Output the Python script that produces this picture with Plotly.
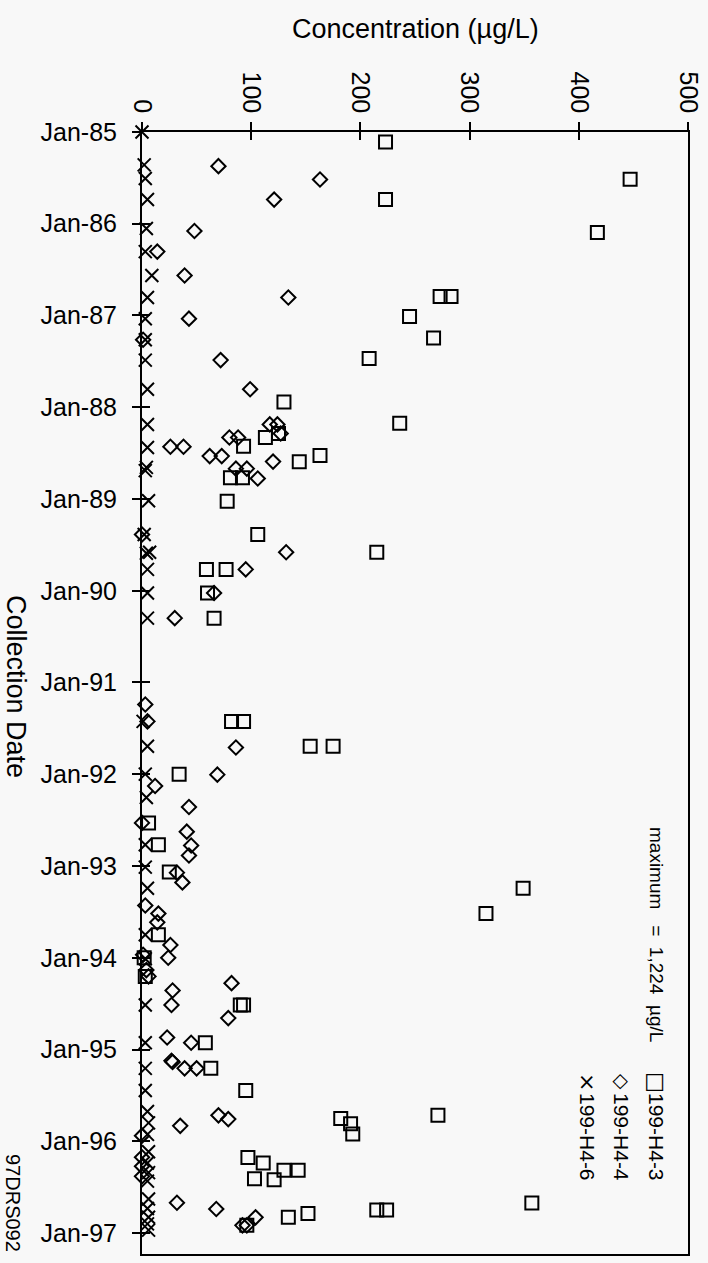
import plotly.graph_objects as go

# ---------------- data ----------------
h43_dates = ['1985-02-10', '1985-07-08', '1985-09-27', '1986-02-05', '1986-10-18', '1986-10-18',
             '1987-01-05', '1987-04-01', '1987-06-22', '1987-12-12', '1988-03-05', '1988-04-15',
             '1988-05-01', '1988-06-05', '1988-07-12', '1988-08-06', '1988-10-08', '1988-10-08',
             '1989-01-10', '1989-05-22', '1989-08-01', '1989-10-08', '1989-10-08', '1990-01-10',
             '1990-04-20', '1991-06-05', '1991-06-05', '1991-09-12', '1991-09-12', '1992-01-01',
             '1992-07-13', '1992-10-08', '1993-01-24', '1993-03-30', '1993-07-09', '1993-10-01',
             '1994-01-01', '1994-03-16', '1994-07-08', '1994-07-08', '1994-12-05', '1995-03-17',
             '1995-06-13', '1995-09-20', '1995-10-03', '1995-10-24', '1995-12-03', '1996-03-06',
             '1996-03-28', '1996-04-26', '1996-04-26', '1996-05-29', '1996-06-02', '1996-09-03',
             '1996-10-01', '1996-10-01', '1996-10-15', '1996-10-30', '1996-12-01']
h43_conc = [223, 447, 223, 417, 273, 283,
            245, 267, 208, 130, 236, 125,
            113, 93, 163, 144, 81, 92,
            78, 106, 215, 59, 77, 60,
            66, 82, 93, 154, 175, 34,
            6, 15, 25, 349, 315, 15,
            2, 3, 90, 93, 58, 63,
            95, 271, 182, 191, 193, 97,
            111, 130, 143, 103, 121, 357,
            215, 224, 152, 134, 96]

h44_dates = ['1985-05-17', '1985-07-09', '1985-09-27', '1986-01-30', '1986-04-22', '1986-07-26',
             '1986-10-22', '1987-01-14', '1987-04-08', '1987-06-28', '1987-10-22', '1988-03-10',
             '1988-03-10', '1988-04-15', '1988-05-01', '1988-05-01', '1988-06-07', '1988-06-07',
             '1988-07-14', '1988-07-14', '1988-08-05', '1988-09-02', '1988-09-02', '1988-10-11',
             '1989-05-22', '1989-08-01', '1989-10-08', '1990-01-10', '1990-04-20', '1991-03-30',
             '1991-06-05', '1991-09-17', '1992-01-03', '1992-02-17', '1992-05-11', '1992-07-13',
             '1992-08-17', '1992-10-11', '1992-11-20', '1993-01-27', '1993-03-07', '1993-06-07',
             '1993-07-09', '1993-08-13', '1993-11-11', '1993-12-20', '1994-01-01', '1994-02-19',
             '1994-03-16', '1994-04-12', '1994-05-11', '1994-07-08', '1994-08-29', '1994-11-14',
             '1994-12-05', '1995-02-15', '1995-02-20', '1995-03-17', '1995-03-17', '1995-09-20',
             '1995-10-05', '1995-11-01', '1995-12-10', '1996-03-05', '1996-04-10', '1996-05-20',
             '1996-09-02', '1996-09-27', '1996-10-30', '1996-12-01', '1996-12-01']
h44_conc = [70, 163, 121, 48, 14, 39,
            134, 43, 1, 72, 99, 117,
            124, 127, 80, 88, 26, 38,
            62, 73, 120, 86, 96, 106,
            0, 132, 95, 66, 30, 3,
            5, 86, 69, 12, 43, 0,
            41, 45, 43, 32, 37, 3,
            15, 14, 26, 1, 24, 4,
            6, 82, 28, 27, 79, 23,
            45, 27, 28, 39, 50, 70,
            79, 35, 0, 0, 0, 0,
            32, 68, 104, 92, 96]

h46_dates = ['1985-01-01', '1985-05-12', '1985-07-05', '1985-09-27', '1986-01-20', '1986-04-22',
             '1986-07-26', '1986-10-22', '1987-01-14', '1987-04-08', '1987-06-28', '1987-10-22',
             '1988-03-10', '1988-06-10', '1988-08-28', '1988-09-10', '1989-01-08', '1989-05-22',
             '1989-08-01', '1989-08-05', '1989-10-08', '1990-01-10', '1990-04-20', '1991-06-05',
             '1991-09-12', '1992-01-01', '1992-04-03', '1992-10-08', '1993-01-05', '1993-03-30',
             '1993-10-01', '1994-01-05', '1994-07-08', '1994-12-05', '1995-03-17', '1995-06-13',
             '1995-09-05', '1995-10-20', '1995-12-05', '1996-02-12', '1996-03-28', '1996-05-05',
             '1996-06-08', '1996-08-18', '1996-09-25', '1996-10-30', '1996-11-25', '1996-12-20']
h46_conc = [0, 2, 3, 5, 4, 3,
            9, 5, 3, 3, 3, 5,
            5, 5, 4, 3, 6, 2,
            7, 4, 5, 5, 5, 1,
            5, 3, 4, 3, 3, 5,
            3, 3, 3, 3, 3, 3,
            5, 6, 5, 6, 5, 6,
            5, 6, 5, 6, 5, 6]

series_names = ['199-H4-3', '199-H4-4', '199-H4-6']
conc_ticks = [0, 100, 200, 300, 400, 500]
date_range = ['1997-03-25', '1985-01-01']
x_title = 'Concentration (µg/L)'
y_title = 'Collection Date'
note_text = 'maximum\u00a0\u00a0\u00a0=\u00a0\u00a01,224\u00a0\u00a0µg/L'
doc_id = '97DRS092'

# ---------------- figure ----------------
FONT = 'Liberation Sans, Arial, Helvetica, sans-serif'
L, R, T, B = 142, 688, 132, 1254


def px(x):
    return (x - L) / (R - L)


def py(y):
    return (B - y) / (B - T)


fig = go.Figure()
fig.add_trace(go.Scatter(x=h43_conc, y=h43_dates, mode='markers', name=series_names[0],
                         cliponaxis=False,
                         marker=dict(symbol='square-open', size=13, color='black',
                                     line=dict(width=2, color='black'))))
fig.add_trace(go.Scatter(x=h44_conc, y=h44_dates, mode='markers', name=series_names[1],
                         cliponaxis=False,
                         marker=dict(symbol='diamond-open', size=11, color='black',
                                     line=dict(width=2, color='black'))))
fig.add_trace(go.Scatter(x=h46_conc, y=h46_dates, mode='markers', name=series_names[2],
                         cliponaxis=False,
                         marker=dict(symbol='x-thin-open', size=13, color='black',
                                     line=dict(width=2, color='black'))))
# empty trace to activate overlay axes (inner half of the crossing ticks)
fig.add_trace(go.Scatter(x=[None], y=[None], xaxis='x2', yaxis='y2', showlegend=False,
                         hoverinfo='skip'))

common = dict(showgrid=False, zeroline=False, automargin=False, tickcolor='black',
              tickwidth=2, ticklen=8)

fig.update_layout(
    template='none',
    width=708, height=1263,
    margin=dict(l=L, r=708 - R, t=T, b=1263 - B, pad=0),
    paper_bgcolor='#f8f8f8', plot_bgcolor='#f8f8f8',
    showlegend=False,
    font=dict(family=FONT, color='black'),
    xaxis=dict(range=[0, 500], side='top', tickmode='array', tickvals=conc_ticks,
               ticktext=[str(v) for v in conc_ticks], tickangle=90, ticks='outside',
               showline=True, linewidth=2, linecolor='black', mirror=True,
               tickfont=dict(size=25, family=FONT, color='black'), **common),
    yaxis=dict(type='date', range=date_range, tick0='1985-01-01', dtick='M12',
               tickformat='%b-%y', ticks='outside', ticklabelstandoff=10,
               showline=True, linewidth=2, linecolor='black', mirror=True,
               tickfont=dict(size=25, family=FONT, color='black'), **common),
    xaxis2=dict(range=[0, 500], overlaying='x', anchor='y2', side='top', tickmode='array',
                tickvals=conc_ticks, ticks='inside', showticklabels=False, showline=False,
                **common),
    yaxis2=dict(type='date', range=date_range, overlaying='y', anchor='x2', side='left',
                tick0='1985-01-01', dtick='M12', ticks='inside', showticklabels=False,
                showline=False, **common),
)

ann = []
ann.append(dict(text=x_title, x=px(415), y=py(29), xref='paper', yref='paper',
                showarrow=False, font=dict(size=27, family=FONT, color='black'),
                xanchor='center', yanchor='middle'))
ann.append(dict(text=y_title, x=px(16), y=py(686), xref='paper', yref='paper',
                showarrow=False, textangle=90, font=dict(size=27, family=FONT, color='black'),
                xanchor='center', yanchor='middle'))
ann.append(dict(text=doc_id, x=px(13), y=py(1203), xref='paper', yref='paper',
                showarrow=False, textangle=90, font=dict(size=20, family=FONT, color='black'),
                xanchor='center', yanchor='middle'))
ann.append(dict(text=note_text, x=px(657), y=py(934), xref='paper', yref='paper',
                showarrow=False, textangle=90, font=dict(size=19, family=FONT, color='black'),
                xanchor='center', yanchor='middle'))
legend_syms = ['□', '◇', '×']
legend_sizes = [22, 20, 22]
legend_x = [657, 622, 588]
for name, sym, ssz, lx in zip(series_names, legend_syms, legend_sizes, legend_x):
    ann.append(dict(text=sym, x=px(lx), y=py(1082), xref='paper', yref='paper',
                    showarrow=False, textangle=90,
                    font=dict(size=ssz, family='DejaVu Sans', color='black'),
                    xanchor='center', yanchor='middle'))
    ann.append(dict(text=name, x=px(lx), y=py(1137), xref='paper', yref='paper',
                    showarrow=False, textangle=90,
                    font=dict(size=21, family=FONT, color='black'),
                    xanchor='center', yanchor='middle'))
fig.update_layout(annotations=ann)

fig.write_html('out.html')
